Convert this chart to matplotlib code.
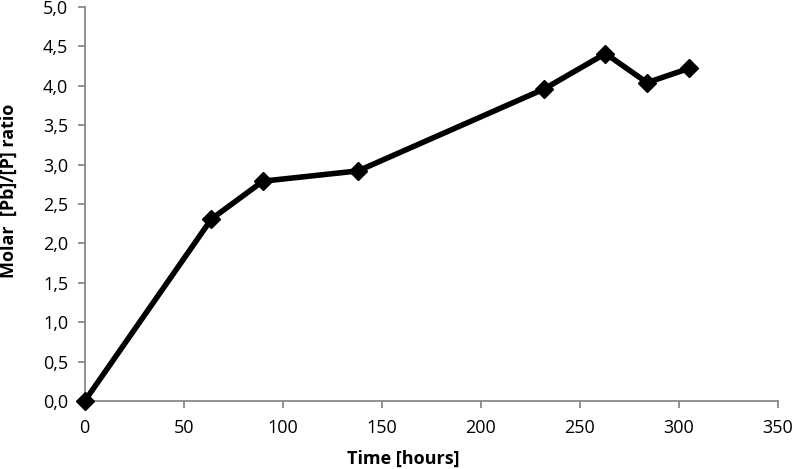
import matplotlib
matplotlib.use("Agg")
import matplotlib.pyplot as plt
from matplotlib.ticker import FuncFormatter, MultipleLocator

# data
time_h = [0, 64, 90, 138, 232, 263, 284, 305]
ratio = [0.0, 2.31, 2.79, 2.92, 3.96, 4.41, 4.04, 4.22]

plt.rcParams["font.family"] = ["Open Sans", "DejaVu Sans"]

fig = plt.figure(figsize=(7.92, 4.69), dpi=100, facecolor="white")
ax = fig.add_axes([0.107, 0.145, 0.875, 0.840])

ax.plot(time_h, ratio, color="black", linewidth=4, marker="D", markersize=9,
        clip_on=False, zorder=3)

ax.set_xlim(0, 350)
ax.set_ylim(0, 5)
ax.xaxis.set_major_locator(MultipleLocator(50))
ax.yaxis.set_major_locator(MultipleLocator(0.5))
ax.yaxis.set_major_formatter(FuncFormatter(lambda v, p: f"{v:.1f}".replace(".", ",")))

for s in ["top", "right"]:
    ax.spines[s].set_visible(False)
for s in ["left", "bottom"]:
    ax.spines[s].set_color("#808080")
    ax.spines[s].set_linewidth(1.2)
ax.tick_params(direction="out", length=5, width=1.2, color="#808080",
               labelsize=13, labelcolor="black")
ax.tick_params(axis="x", pad=8)
ax.tick_params(axis="y", pad=7)

ax.set_xlabel("Time [hours]", fontsize=13, fontweight="bold", va="center")
ax.set_ylabel("Molar  [Pb]/[P] ratio", fontsize=13, fontweight="bold", va="center")
ax.xaxis.set_label_coords(0.46, -0.147)
ax.yaxis.set_label_coords(-0.110, 0.533)

fig.savefig("out.png", dpi=100, facecolor="white")
